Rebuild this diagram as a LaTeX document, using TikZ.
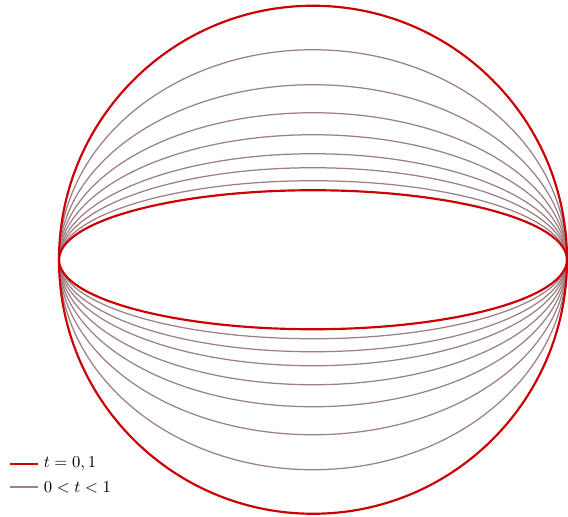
\documentclass[tikz,border=0pt]{standalone}
\usepackage{xcolor}
\usetikzlibrary{positioning}
\definecolor{bound}{RGB}{204,0,0}
\definecolor{family}{RGB}{156,128,131}

\begin{document}
\begin{tikzpicture}[
  x=0.6pt,y=0.6pt,
  edge/.style={draw=bound,line width=1.3pt},
  inner/.style={draw=family,line width=0.75pt},
  lgtext/.style={anchor=west,inner sep=3.3pt}
]
\useasboundingbox (0,0) rectangle (568,-517);
\coordinate (c) at (313,-259.75);

% intermediate curves
\foreach \b in {79,92,106,125,147,175,210}
  \draw[inner] (c) ellipse [x radius=254,y radius=\b];

% t=0 and t=1
\draw[edge] (c) circle [radius=254];
\draw[edge] (c) ellipse [x radius=254,y radius=69.5];

% legend
\node[lgtext] (lgA) at (38,-464) {$t=0,1$};
\node[lgtext] (lgB) at (38,-487) {$0<t<1$};
\draw[edge] ([xshift=-16.8pt]lgA.west) -- (lgA.west);
\draw[inner] ([xshift=-16.8pt]lgB.west) -- (lgB.west);
\end{tikzpicture}
\end{document}
